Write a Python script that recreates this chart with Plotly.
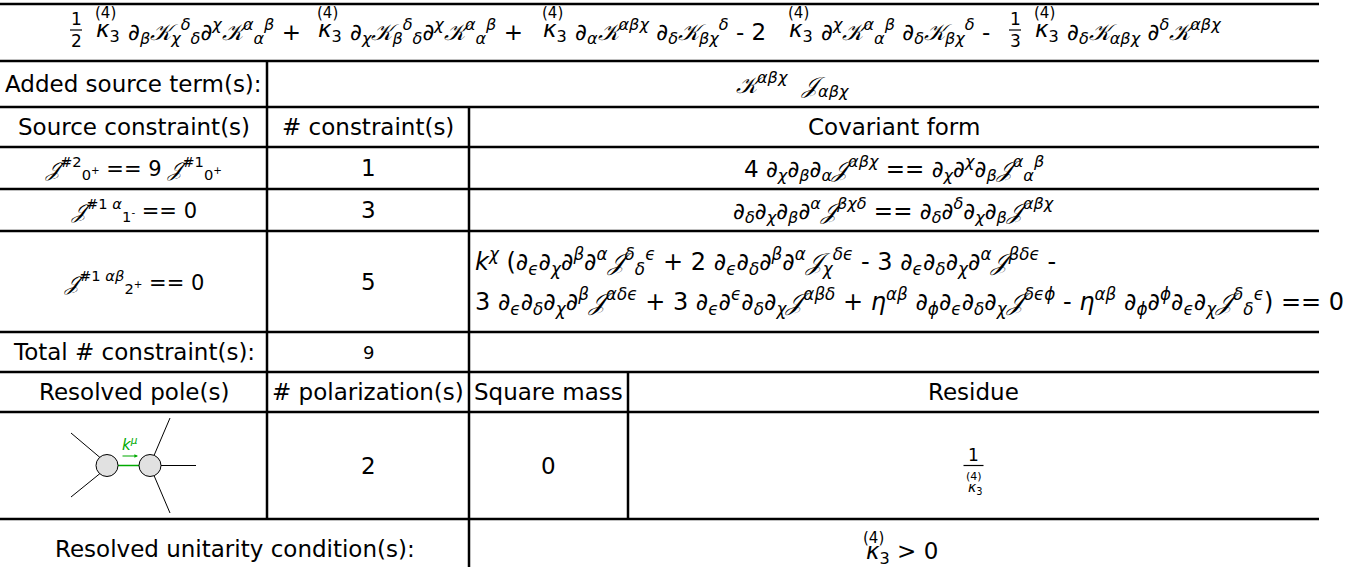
import re
import plotly.graph_objects as go

W, H = 1351, 567

# ---------------------------------------------------------------------------
# Table content
# ---------------------------------------------------------------------------
# Lagrangian: sign, numeric coefficient, field part (each term carries kappa_3^(4))
lag_signs = ["", "+", "+", "-", "-"]
lag_coeffs = ["1/2", "", "", "2", "1/3"]
lag_fields = ["∂_{β}𝒦_{χ}^{δ}_{δ}∂^{χ}𝒦^{α}_{α}^{β}",
              "∂_{χ}𝒦_{β}^{δ}_{δ}∂^{χ}𝒦^{α}_{α}^{β}",
              "∂_{α}𝒦^{αβχ} ∂_{δ}𝒦_{βχ}^{δ}",
              "∂^{χ}𝒦^{α}_{α}^{β} ∂_{δ}𝒦_{βχ}^{δ}",
              "∂_{δ}𝒦_{αβχ} ∂^{δ}𝒦^{αβχ}"]
coupling = "κ_{3}"
coupling_order = "(4)"
source_term = "𝒦^{αβχ}  𝒥_{αβχ}"

constraint_headers = ["Source constraint(s)", "# constraint(s)", "Covariant form"]
constraints = ["𝒥^{#2}_{0^{+}} == 9 𝒥^{#1}_{0^{+}}",
               "𝒥^{#1 α}_{1^{-}} == 0",
               "𝒥^{#1 αβ}_{2^{+}} == 0"]
n_constraints = [1, 3, 5]
covariant = [
    ["4 ∂_{χ}∂_{β}∂_{α}𝒥^{αβχ} == ∂_{χ}∂^{χ}∂_{β}𝒥^{α}_{α}^{β}"],
    ["∂_{δ}∂_{χ}∂_{β}∂^{α}𝒥^{βχδ} == ∂_{δ}∂^{δ}∂_{χ}∂_{β}𝒥^{αβχ}"],
    ["k^{χ} (∂_{ϵ}∂_{χ}∂^{β}∂^{α}𝒥^{δ}_{δ}^{ϵ} + 2 ∂_{ϵ}∂_{δ}∂^{β}∂^{α}𝒥_{χ}^{δϵ}"
     " - 3 ∂_{ϵ}∂_{δ}∂_{χ}∂^{α}𝒥^{βδϵ} -",
     "3 ∂_{ϵ}∂_{δ}∂_{χ}∂^{β}𝒥^{αδϵ} + 3 ∂_{ϵ}∂^{ϵ}∂_{δ}∂_{χ}𝒥^{αβδ} + "
     "η^{αβ} ∂_{ϕ}∂_{ϵ}∂_{δ}∂_{χ}𝒥^{δϵϕ} - η^{αβ} ∂_{ϕ}∂^{ϕ}∂_{ϵ}∂_{χ}𝒥^{δ}_{δ}^{ϵ}) == 0"],
]
total_constraints = sum(n_constraints)

pole_headers = ["Resolved pole(s)", "# polarization(s)", "Square mass", "Residue"]
polarizations = [2]
square_masses = ["0"]
residue_num = "1"
unitarity_rhs = " > 0"

# ---------------------------------------------------------------------------
# Grid layout (pixels of the final picture)
# ---------------------------------------------------------------------------
ROW_EDGES = [4, 61, 107, 147, 189, 231, 332, 372, 412, 519, 567]
COL_A, COL_B, COL_C, RIGHT = 267, 469, 628, 1319
FONT = "DejaVu Sans"
TXT = 23
LINE = dict(color="black", width=2.5)

# horizontal flow of the lagrangian pieces (rendered widths at 23px, and gaps)
LAG_X0, LAG_Y = 70, 31
W_FRAC, W_KAPPA = 12, 26
W_FIELD = [170, 173, 194, 170, 156]
GAP = {"frac": 12, "kappa": 6, "field": 20}


def fmt(s):
    s = re.sub(r"([αβχδϵϕημκ∂𝒦𝒥k]+)", r"<i>\1</i>", s)
    s = re.sub(r"\^\{([^{}]*)\}", r"<sup>\1</sup>", s)
    s = re.sub(r"_\{([^{}]*)\}", r"<sub>\1</sub>", s)
    return s


def mid(i):
    return (ROW_EDGES[i] + ROW_EDGES[i + 1]) / 2


fig = go.Figure(go.Scatter(x=[0], y=[0], mode="markers", opacity=0, hoverinfo="skip"))
ann = []
shapes = []


def text(x, y, s, size=TXT, anchor="center", color="black"):
    ann.append(dict(x=x, y=y, text=s, showarrow=False, xanchor=anchor, yanchor="middle",
                    font=dict(family=FONT, size=size, color=color)))


def hline(x0, x1, y, width=2.5, color="black"):
    shapes.append(dict(type="line", x0=x0, x1=x1, y0=y, y1=y, line=dict(color=color, width=width)))


def fraction(x, y, num, den, size, gap):
    text(x, y - gap, num, size=size)
    hline(x - 6, x + 6, y, width=1.2)
    text(x, y + gap, den, size=size)


# grid lines
for y in ROW_EDGES[:-1]:
    hline(0, RIGHT, y)
for x, y0, y1 in [(COL_A, ROW_EDGES[1], ROW_EDGES[9]), (COL_B, ROW_EDGES[2], H),
                  (COL_C, ROW_EDGES[7], ROW_EDGES[9])]:
    shapes.append(dict(type="line", x0=x, x1=x, y0=y0, y1=y1, line=LINE))

# row 0 : lagrangian, laid out piece after piece
x = LAG_X0
for i, field in enumerate(lag_fields):
    if "/" in lag_coeffs[i]:
        num, den = lag_coeffs[i].split("/")
        fraction(x + W_FRAC / 2, LAG_Y - 1, num, den, 17, 11)
        x += W_FRAC + GAP["frac"]
    text(x - 1, 13, coupling_order, size=15, anchor="left")
    text(x, LAG_Y, fmt(coupling), size=TXT, anchor="left")
    x += W_KAPPA + GAP["kappa"]
    tail = ""
    if i + 1 < len(lag_fields):
        tail = " " + lag_signs[i + 1]
        if lag_coeffs[i + 1] and "/" not in lag_coeffs[i + 1]:
            tail += " " + lag_coeffs[i + 1]
    text(x, LAG_Y, fmt(field) + tail, size=TXT, anchor="left")
    x += W_FIELD[i] + GAP["field"]

# row 1 : source term
text(COL_A / 2, mid(1), "Added source term(s):")
text((COL_A + RIGHT) / 2, mid(1), fmt(source_term), size=TXT)

# constraint header
for xc, s in zip([COL_A / 2, (COL_A + COL_B) / 2, (COL_B + RIGHT) / 2], constraint_headers):
    text(xc, mid(2), s)

# constraint rows
for k, (c, n, cov) in enumerate(zip(constraints, n_constraints, covariant)):
    r = 3 + k
    text(COL_A / 2, mid(r), fmt(c), size=21)
    text((COL_A + COL_B) / 2, mid(r), str(n))
    if len(cov) == 1:
        text((COL_B + RIGHT) / 2, mid(r), fmt(cov[0]), size=TXT)
    else:
        h = ROW_EDGES[r + 1] - ROW_EDGES[r]
        for j, line in enumerate(cov):
            text(COL_B + 4, ROW_EDGES[r] + h * (0.3 + 0.4 * j), fmt(line), size=24, anchor="left")

# total
text(COL_A / 2, mid(6), "Total # constraint(s):")
text((COL_A + COL_B) / 2, mid(6), str(total_constraints), size=18)

# pole header
for xc, s in zip([COL_A / 2, (COL_A + COL_B) / 2, (COL_B + COL_C) / 2, (COL_C + RIGHT) / 2],
                 pole_headers):
    text(xc, mid(7), s)

# pole row
text((COL_A + COL_B) / 2, mid(8), str(polarizations[0]))
text((COL_B + COL_C) / 2, mid(8), square_masses[0])
rx = (COL_C + RIGHT) / 2
text(rx, mid(8) - 11, residue_num, size=17)
hline(rx - 10, rx + 10, mid(8), width=1.2)
text(rx, mid(8) + 11, coupling_order, size=11)
text(rx + 2, mid(8) + 22, fmt(coupling), size=14)

# diagram: two blobs joined by the propagator
GREEN = "rgb(0,170,0)"
cy = mid(8)
c1, c2, r = 107, 150, 11
for x0, y0, x1, y1 in [(71, 433, c1 - 7, cy - 8), (71, 497, c1 - 7, cy + 8),
                       (170, 418, c2 + 4, cy - 10), (170, 513, c2 + 4, cy + 10),
                       (c2 + r, cy, 196, cy)]:
    shapes.append(dict(type="line", x0=x0, x1=x1, y0=y0, y1=y1, line=dict(color="black", width=1)))
shapes.append(dict(type="line", x0=c1 + r, x1=c2 - r, y0=cy, y1=cy, line=dict(color=GREEN, width=1.5)))
for c in (c1, c2):
    shapes.append(dict(type="circle", x0=c - r, x1=c + r, y0=cy - r, y1=cy + r,
                       fillcolor="rgb(225,225,225)", line=dict(color="black", width=1)))
ann.append(dict(x=138, y=456, ax=121, ay=456, axref="x", ayref="y", text="",
                showarrow=True, arrowhead=2, arrowsize=0.6, arrowwidth=1.2, arrowcolor=GREEN))
text(130, 444, "<i>k</i><sup><i>μ</i></sup>", size=15, color=GREEN)

# unitarity
ux = (COL_B + RIGHT) / 2
text(COL_B / 2, 549, "Resolved unitarity condition(s):")
text(ux - 30, 553, fmt(coupling) + unitarity_rhs, size=TXT, anchor="left")
text(ux - 33, 538, coupling_order, size=15, anchor="left")

fig.update_layout(
    width=W, height=H, margin=dict(l=0, r=0, t=0, b=0),
    paper_bgcolor="white", plot_bgcolor="white", showlegend=False,
    xaxis=dict(range=[0, W], visible=False, fixedrange=True),
    yaxis=dict(range=[H, 0], visible=False, fixedrange=True),
    shapes=shapes, annotations=ann,
)
# the page body margin would push the figure 8px away from the window corner
fig.write_html("out.html", config={"displayModeBar": False},
               post_script="document.body.style.margin='0px';")
